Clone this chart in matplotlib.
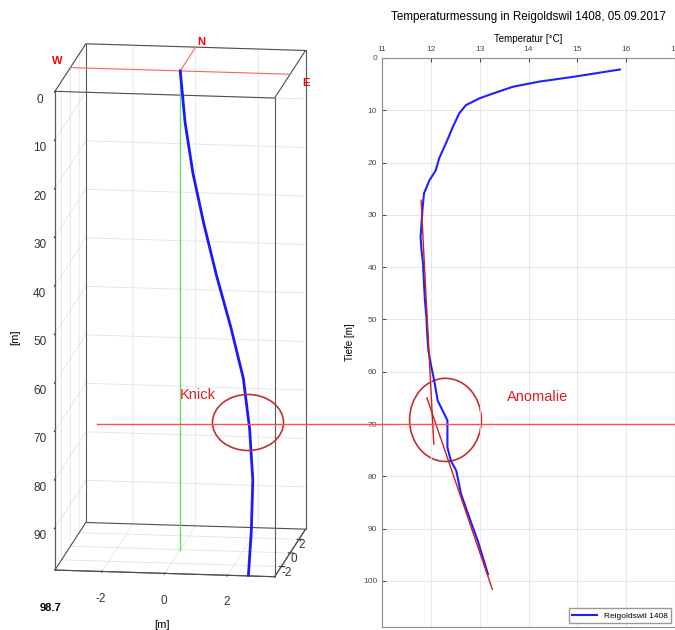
import numpy as np
import matplotlib
matplotlib.use("Agg")
import matplotlib.pyplot as plt
from matplotlib.patches import Ellipse
from matplotlib.transforms import blended_transform_factory

plt.rcParams["font.family"] = ["Liberation Sans", "DejaVu Sans"]
plt.rcParams["grid.color"] = "#e4e4e4"
plt.rcParams["grid.linewidth"] = 0.6
plt.rcParams["axes.unicode_minus"] = False

# Bohrpfad (3D): Tiefe, Ost, Nord
path_depth = [0, 10, 20, 30, 40, 50, 60, 70, 80, 90, 98.7]
path_east = [0, 0.2, 0.5, 0.9, 1.35, 1.85, 2.3, 2.55, 2.7, 2.7, 2.65]
path_north = [0, -0.34, -0.69, -1.03, -1.38, -1.72, -2.07, -2.41, -2.76, -3.1, -3.4]
max_depth = 98.7
xy_lim = (-3.5, 3.5)
xy_ticks = [-2, 0, 2]

# Temperaturprofil
temp_depth = [2.2, 3.6, 4.5, 5.5, 6.8, 7.7, 9.0, 10.6, 13.2, 16.3, 19.2, 21.5,
              23.4, 25.9, 28.8, 31.7, 34.2, 36.8, 39.3, 43.2, 46.4, 49.6, 53.4,
              55.9, 58.6, 61.7, 65.5, 67.4, 69.3, 71.9, 74.5, 77.0, 78.9, 83.4,
              87.9, 92.3, 98.7]
temp_values = [15.87, 14.92, 14.23, 13.68, 13.27, 13.00, 12.72, 12.58, 12.45,
               12.31, 12.17, 12.10, 11.97, 11.86, 11.83, 11.81, 11.79, 11.81,
               11.84, 11.86, 11.88, 11.91, 11.93, 11.95, 12.00, 12.07, 12.14,
               12.24, 12.34, 12.34, 12.34, 12.41, 12.52, 12.62, 12.79, 12.96,
               13.17]
fit1_temp = [11.80, 12.06]
fit1_depth = [27.2, 73.8]
fit2_temp = [11.92, 13.26]
fit2_depth = [65.0, 101.6]
mark_depth = 70

fig = plt.figure(figsize=(6.75, 6.3), dpi=100)

# linkes Panel: 3D Bohrpfad
ax = fig.add_axes([0.0, 0.0, 0.52, 1.0], projection="3d", proj_type="ortho")
ax.set_box_aspect((1, 1, 2.21), zoom=1.61)
ax.view_init(elev=12.5, azim=-82)
ax.set_xlim(*xy_lim)
ax.set_ylim(*xy_lim)
ax.set_zlim(max_depth, 0)
ax.patch.set_alpha(0)
for axis in (ax.xaxis, ax.yaxis, ax.zaxis):
    axis.set_pane_color((1, 1, 1, 0))
    axis.line.set_color("0.35")
ax.zaxis.set_ticks_position("lower")
ax.zaxis.set_label_position("lower")
ax.set_xticks(xy_ticks)
ax.set_yticks(xy_ticks)
ax.set_yticklabels([str(t) for t in xy_ticks], ha="left")
ax.set_zticks(range(0, 100, 10))
ax.tick_params(labelsize=8.5, colors="0.2")
ax.xaxis.set_tick_params(pad=-2.7)
ax.yaxis.set_tick_params(pad=-8)
ax.zaxis.set_tick_params(pad=0)

# Kastenkanten
x0, x1 = xy_lim
y0, y1 = xy_lim
line_kw = dict(clip_on=False)
for zz in (0, max_depth):
    ax.plot([x0, x1, x1, x0, x0], [y0, y0, y1, y1, y0], [zz] * 5,
            color="0.3", lw=0.8, **line_kw)
for xx, yy in [(x0, y0), (x1, y0), (x1, y1), (x0, y1)]:
    ax.plot([xx, xx], [yy, yy], [0, max_depth], color="0.35", lw=0.8, **line_kw)

ax.plot([x0, x1], [0, 0], [0, 0], color="#ff6060", lw=0.8, **line_kw)
ax.plot([0, 0], [0, y1], [0, 0], color="#ff6060", lw=0.8, **line_kw)
ax.plot([0, 0], [0, 0], [0, max_depth], color="#66dd66", lw=1, **line_kw)
ax.plot(path_east, path_north, path_depth, color="#1a1aff", lw=2, **line_kw)
ax.text(x0 - 0.65, 0.4, 0, "W", color="red", fontsize=8, fontweight="bold")
ax.text(0.0, y1 + 0.3, 0, "N", color="red", fontsize=8, fontweight="bold")
ax.text(x1 + 0.6, -1.6, 0, "E", color="red", fontsize=8, fontweight="bold")
ax.zaxis.set_rotate_label(False)
ax.set_xlabel("[m]", fontsize=8, labelpad=-8)
ax.set_zlabel("[m]", fontsize=8, rotation=90, labelpad=0)
fig.text(40 / 675, 1 - 608 / 630, "98.7", fontsize=8, fontweight="bold", va="center")

# rechtes Panel: Temperatur
ax2 = fig.add_axes([382 / 675, 1 - 627 / 630, 293 / 675, 569 / 630])
ax2.plot(temp_values, temp_depth, color="#2020ff", lw=1.5, label="Reigoldswil 1408")
ax2.plot(fit1_temp, fit1_depth, color="#cc2020", lw=1)
ax2.plot(fit2_temp, fit2_depth, color="#cc2020", lw=1)
ax2.set_xlim(11, 17)
ax2.set_ylim(108.8, 0)
ax2.set_xticks(range(11, 18))
ax2.set_yticks(range(0, 101, 10))
ax2.xaxis.tick_top()
ax2.xaxis.set_label_position("top")
ax2.tick_params(direction="in", labelsize=6, length=3, colors="0.3")
ax2.grid(True)
for sp in ax2.spines.values():
    sp.set_color("0.55")
ax2.set_xlabel("Temperatur [°C]", fontsize=7, labelpad=3)
ax2.set_ylabel("Tiefe [m]", fontsize=7, labelpad=6)
ax2.set_title("Temperaturmessung in Reigoldswil 1408, 05.09.2017", fontsize=8.4, pad=10)
ax2.legend(loc="lower right", fontsize=6, fancybox=False, edgecolor="0.5",
           handlelength=3)

# Annotationen
ax2.add_patch(Ellipse((12.30, 69.2), 1.47, 15.9, fill=False, color="#c03030",
                      lw=1.2, clip_on=False))
ax2.text(13.55, 65.5, "Anomalie", color="#dd2020", fontsize=10.5)
trans = blended_transform_factory(fig.transFigure, ax2.transData)
fig.add_artist(plt.Line2D([97 / 675, 1.0], [mark_depth, mark_depth],
                          transform=trans, color="#ff5050", lw=1))
fig.add_artist(Ellipse((248 / 675, 1 - 422.5 / 630), 71 / 675, 56 / 630,
                       transform=fig.transFigure, fill=False,
                       color="#c03030", lw=1.2))
fig.text(180 / 675, 1 - 395 / 630, "Knick", color="#dd2020", fontsize=10.5,
         va="center")

fig.savefig("out.png", dpi=100)
